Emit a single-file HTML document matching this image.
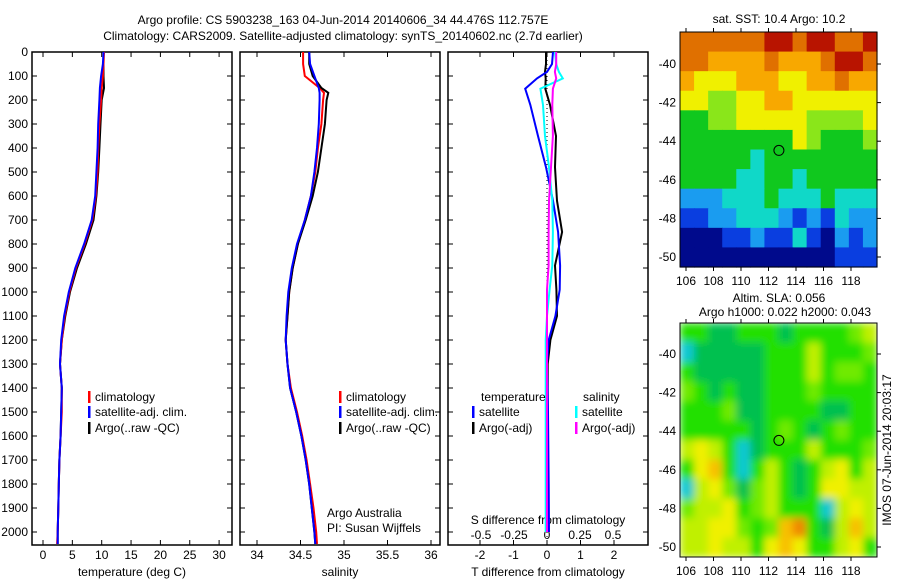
<!DOCTYPE html>
<html><head><meta charset="utf-8"><style>
body{margin:0;background:#fff}
svg text{font-family:"Liberation Sans",sans-serif;font-size:12px;fill:#000}
</style></head><body>
<svg id="s" width="900" height="580" viewBox="0 0 900 580" xmlns="http://www.w3.org/2000/svg">
<defs><filter id="bl" x="0" y="0" width="1" height="1"><feGaussianBlur stdDeviation="4"/></filter>
<clipPath id="c2"><rect x="680" y="323" width="197" height="234"/></clipPath></defs>
<text x="343" y="24" text-anchor="middle" font-size="13">Argo profile: CS 5903238_163 04-Jun-2014 20140606_34 44.476S 112.757E</text>
<text x="343" y="40" text-anchor="middle" font-size="13">Climatology: CARS2009. Satellite-adjusted climatology: synTS_20140602.nc (2.7d earlier)</text>
<g id="g"></g>
</svg>
<script>
// temperature panel
const tDepth=[0,50,100,150,200,300,400,500,600,700,800,900,1000,1100,1200,1300,1400,1500,1600,1700,1800,1900,2000,2050];
const tClim=[10.4,10.3,10.2,10.0,9.9,9.6,9.4,9.3,9.0,8.4,7.1,5.6,4.5,3.7,3.2,2.9,3.2,3.2,3.0,2.8,2.7,2.6,2.5,2.4];
const tArgo=[10.3,10.3,10.3,10.4,10.0,9.8,9.6,9.4,9.1,8.6,7.3,5.8,4.6,3.8,3.2,2.9,3.2,3.1,3.0,2.8,2.7,2.6,2.5,2.5];
const tSat=[10.3,10.2,9.9,9.7,9.6,9.4,9.3,9.1,8.9,8.3,7.0,5.5,4.4,3.6,3.1,2.9,3.2,3.1,3.0,2.8,2.7,2.6,2.5,2.5];
// salinity panel
const sDepth=[0,50,100,150,170,200,300,400,500,600,700,800,900,1000,1100,1200,1300,1400,1500,1600,1700,1800,1900,2000,2050];
const sClim=[34.53,34.53,34.55,34.72,34.77,34.76,34.74,34.70,34.67,34.62,34.55,34.47,34.41,34.37,34.35,34.33,34.35,34.39,34.46,34.52,34.57,34.61,34.65,34.68,34.69];
const sArgo=[34.60,34.60,34.64,34.74,34.82,34.80,34.78,34.74,34.70,34.64,34.56,34.47,34.41,34.37,34.35,34.33,34.35,34.38,34.45,34.51,34.56,34.60,34.63,34.66,34.67];
const sSat=[34.60,34.61,34.66,34.71,34.72,34.72,34.71,34.69,34.66,34.62,34.55,34.46,34.40,34.36,34.34,34.33,34.35,34.38,34.45,34.51,34.56,34.60,34.63,34.66,34.67];
// difference panel
const dDepth=[0,50,83,110,153,220,350,480,620,750,890,990,1100,1200,1300,1500,1800,2000];
const dTsat=[0.18,0.15,0,-0.3,-0.65,-0.5,-0.27,-0.03,0.18,0.33,0.39,0.38,0.25,0.05,0,0.03,0.05,0.06];
const dTargo=[-0.03,-0.03,-0.06,-0.04,-0.05,0.09,0.27,0.24,0.3,0.45,0.24,0.28,0.3,0.1,0.02,0.02,0.01,0.01];
const dSsat=[0.06,0.07,0.09,0.12,-0.05,-0.03,-0.015,0.015,0.04,0.045,0.04,0.02,0,-0.01,-0.01,-0.01,-0.01,-0.01];
const dSargo=[0.07,0.07,0.06,0.07,0.045,0.04,0.045,0.03,0.015,0.012,0.012,0,0,0,0,0,0,0];
const depthTicks=[0,100,200,300,400,500,600,700,800,900,1000,1100,1200,1300,1400,1500,1600,1700,1800,1900,2000];
const tTicks=[0,5,10,15,20,25,30];
const sTicks=[34,34.5,35,35.5,36];
const sTickLabels=["34","34.5","35","35.5","36"];
const dTTicks=[-2,-1,0,1,2];
const dSTicks=[-0.5,-0.25,0,0.25,0.5];
const dSTickLabels=["-0.5","-0.25","0","0.25","0.5"];
// maps (color index grids, 14 lon cols x 12 lat rows)
const sstGrid=[
[8,8,8,8,8,8,9,9,8,9,9,8,8,9],[8,8,7,7,7,7,8,7,7,7,8,9,9,8],[7,6,6,6,7,7,7,6,6,7,7,8,7,7],
[6,6,5,5,6,6,7,7,6,6,6,6,6,6],[4,4,5,5,6,6,6,6,6,5,5,5,5,6],[4,4,4,4,4,4,4,4,6,5,4,4,4,5],
[4,4,4,4,4,3,4,4,4,4,4,4,4,4],[4,4,4,4,3,3,4,4,3,4,4,4,4,4],[2,2,2,3,3,3,4,3,3,3,4,3,3,3],
[1,1,2,2,3,3,3,2,1,2,1,3,2,2],[0,0,0,1,1,2,1,1,3,1,0,2,1,2],[0,0,0,0,0,0,0,0,0,0,0,1,1,1]];
const sstColors=["#000a8c","#0a3ee0","#1a9cf0","#10d8c8","#10c81e","#8ae61a","#f0f000","#f8a800","#e07000","#b81400"];
const slaGrid=[
[2,2,1,1,2,2,2,1,2,2,2,2,3,4],[0,1,1,1,1,1,2,2,2,4,2,2,2,3],[2,1,1,1,1,1,2,2,2,4,2,3,3,2],
[3,2,1,2,1,1,2,2,2,3,2,2,2,2],[2,2,2,3,1,1,2,2,2,2,1,1,2,2],[2,2,2,2,2,1,2,3,2,1,2,3,2,2],
[4,5,4,2,0,1,2,2,2,4,2,2,2,3],[2,5,6,2,0,2,4,2,1,2,4,5,2,4],[0,4,5,3,1,3,4,2,1,2,5,5,4,4],
[3,4,4,5,2,3,4,2,2,2,0,4,5,4],[4,4,5,5,3,2,3,6,7,2,1,4,6,4],[4,4,5,4,4,2,5,6,5,2,2,4,5,2]];
const slaColors=["#10c8d0","#00c050","#20e000","#70ea00","#c0f000","#f0f000","#f8c000","#f08800"];
const lonTicks=[106,108,110,112,114,116,118];
const latTicks=[-40,-42,-44,-46,-48,-50];
const argoLon=112.757, argoLat=-44.476;

const NS='http://www.w3.org/2000/svg', G=document.getElementById('g');
function mk(t,a,p){const e=document.createElementNS(NS,t);for(const k in a)e.setAttribute(k,a[k]);(p||G).appendChild(e);return e;}
function tx(x,y,s,anc,nm){const e=mk('text',{x:x,y:y,'text-anchor':anc||'start'});e.textContent=s;

return e;}
const Y=d=>52+d*0.24;
const PT=[32,232],PS=[240,440],PD=[448,648],TOP=52,BOT=545;
const xT=v=>43+v*5.87, xS=v=>257+(v-34)*87, xDT=v=>547+v*33.5, xDS=v=>547+v*132;
function panel(p,nm){const r=mk('rect',{x:p[0],y:TOP,width:p[1]-p[0],height:BOT-TOP,fill:'none',stroke:'#000','stroke-width':1.5});


depthTicks.forEach(d=>{mk('line',{x1:p[0],x2:p[0]+5,y1:Y(d),y2:Y(d),stroke:'#000'});mk('line',{x1:p[1],x2:p[1]-5,y1:Y(d),y2:Y(d),stroke:'#000'});});}
panel(PT,'temperature-panel');panel(PS,'salinity-panel');panel(PD,'difference-panel');
depthTicks.forEach(d=>tx(28,Y(d)+4,String(d),'end','depth-tick-label'));
function xticks(ticks,labels,f,p,ly){ticks.forEach((v,i)=>{const x=f(v);mk('line',{x1:x,x2:x,y1:TOP,y2:TOP+5,stroke:'#000'});mk('line',{x1:x,x2:x,y1:BOT,y2:BOT-5,stroke:'#000'});tx(x,ly,labels[i],'middle','x-tick-label');});}
xticks(tTicks,tTicks.map(String),xT,PT,559);
xticks(sTicks,sTickLabels,xS,PS,559);
xticks(dTTicks,dTTicks.map(String),xDT,PD,559);
dSTicks.forEach((v,i)=>tx(xDS(v),539,dSTickLabels[i],'middle','s-diff-tick-label'));
tx(132,576,'temperature (deg C)','middle','temperature-axis-title');
tx(340,576,'salinity','middle','salinity-axis-title');
tx(548,576,'T difference from climatology','middle','t-diff-axis-title');
tx(548,524,'S difference from climatology','middle','s-diff-axis-title');
tx(327,517,'Argo Australia','start','institution-label');
tx(327,532,'PI: Susan Wijffels','start','pi-label');
function line(depths,vals,f,col,nm,extra){const pts=vals.map((v,i)=>f(v).toFixed(1)+','+Y(depths[i]).toFixed(1)).join(' ');
const e=mk('polyline',Object.assign({points:pts,fill:'none',stroke:col,'stroke-width':2},extra||{}));

}
line(tDepth,tArgo,xT,'#000','temp-argo-line');line(tDepth,tClim,xT,'#f00','temp-climatology-line');line(tDepth,tSat,xT,'#00f','temp-satellite-line');
line(sDepth,sClim,xS,'#f00','sal-climatology-line');line(sDepth,sArgo,xS,'#000','sal-argo-line');line(sDepth,sSat,xS,'#00f','sal-satellite-line');
mk('line',{x1:547,x2:547,y1:TOP,y2:BOT,stroke:'#000','stroke-dasharray':'1,3'});
line(dDepth,dTargo,xDT,'#000','tdiff-argo-line');line(dDepth,dTsat,xDT,'#00f','tdiff-satellite-line');
line(dDepth,dSsat,xDS,'#0ff','sdiff-satellite-line');line(dDepth,dSargo,xDS,'#f0f','sdiff-argo-line');
function leg(x,y,col,s,nm){mk('rect',{x:x,y:y-10,width:2.5,height:12,fill:col});tx(x+7,y,s,'start',nm);}
[[88],[339]].forEach(([x])=>{leg(x,401,'#f00','climatology','legend-climatology');leg(x,416,'#00f','satellite-adj. clim.','legend-satellite');leg(x,432,'#000','Argo(..raw -QC)','legend-argo');});
tx(481,401,'temperature','start','legend-temperature-heading');tx(583,401,'salinity','start','legend-salinity-heading');
leg(472,416,'#00f','satellite','legend-t-satellite');leg(472,432,'#000','Argo(-adj)','legend-t-argo');
leg(575,416,'#0ff','satellite','legend-s-satellite');leg(575,432,'#f0f','Argo(-adj)','legend-s-argo');
// maps
function map(x0,y0,w,h,grid,cols,lat40,nm,blur){
const gg=mk('g',blur?{'clip-path':'url(#c2)'}:{});


const inner=mk('g',blur?{filter:'url(#bl)'}:{},gg);
const cw=w/grid[0].length,ch=h/grid.length;
if(blur)mk('rect',{x:x0,y:y0,width:w,height:h,fill:cols[2]},inner);
grid.forEach((row,r)=>row.forEach((c,k)=>mk('rect',{x:x0+k*cw,y:y0+r*ch,width:cw+0.6,height:ch+0.6,fill:cols[c]},inner)));
mk('rect',{x:x0,y:y0,width:w,height:h,fill:'none',stroke:'#000'});
const lx=v=>686+(v-106)*13.75, ly=v=>lat40+(-40-v)*19.3;
lonTicks.forEach(v=>{mk('line',{x1:lx(v),x2:lx(v),y1:y0,y2:y0-4,stroke:'#000'});mk('line',{x1:lx(v),x2:lx(v),y1:y0+h,y2:y0+h+4,stroke:'#000'});tx(lx(v),y0+h+18,String(v),'middle','lon-tick-label');});
latTicks.forEach(v=>{mk('line',{x1:x0+w,x2:x0+w+4,y1:ly(v),y2:ly(v),stroke:'#000'});tx(676,ly(v)+4,String(v),'end','lat-tick-label');});
const c=mk('circle',{cx:lx(argoLon),cy:ly(argoLat),r:5,fill:'none',stroke:'#000'});

}
map(680,32,197,235,sstGrid,sstColors,64,'sst-map',false);
map(680,323,197,234,slaGrid,slaColors,354,'sla-map',true);
tx(779,23,'sat. SST: 10.4  Argo: 10.2','middle','sst-map-title');
tx(779,302,'Altim. SLA: 0.056','middle','sla-map-title');
tx(785,316,'Argo h1000: 0.022  h2000: 0.043','middle','sla-map-subtitle');
const r=tx(0,0,'IMOS 07-Jun-2014 20:03:17','middle','timestamp-label');r.setAttribute('transform','translate(891,450) rotate(-90)');
</script>
</body></html>
